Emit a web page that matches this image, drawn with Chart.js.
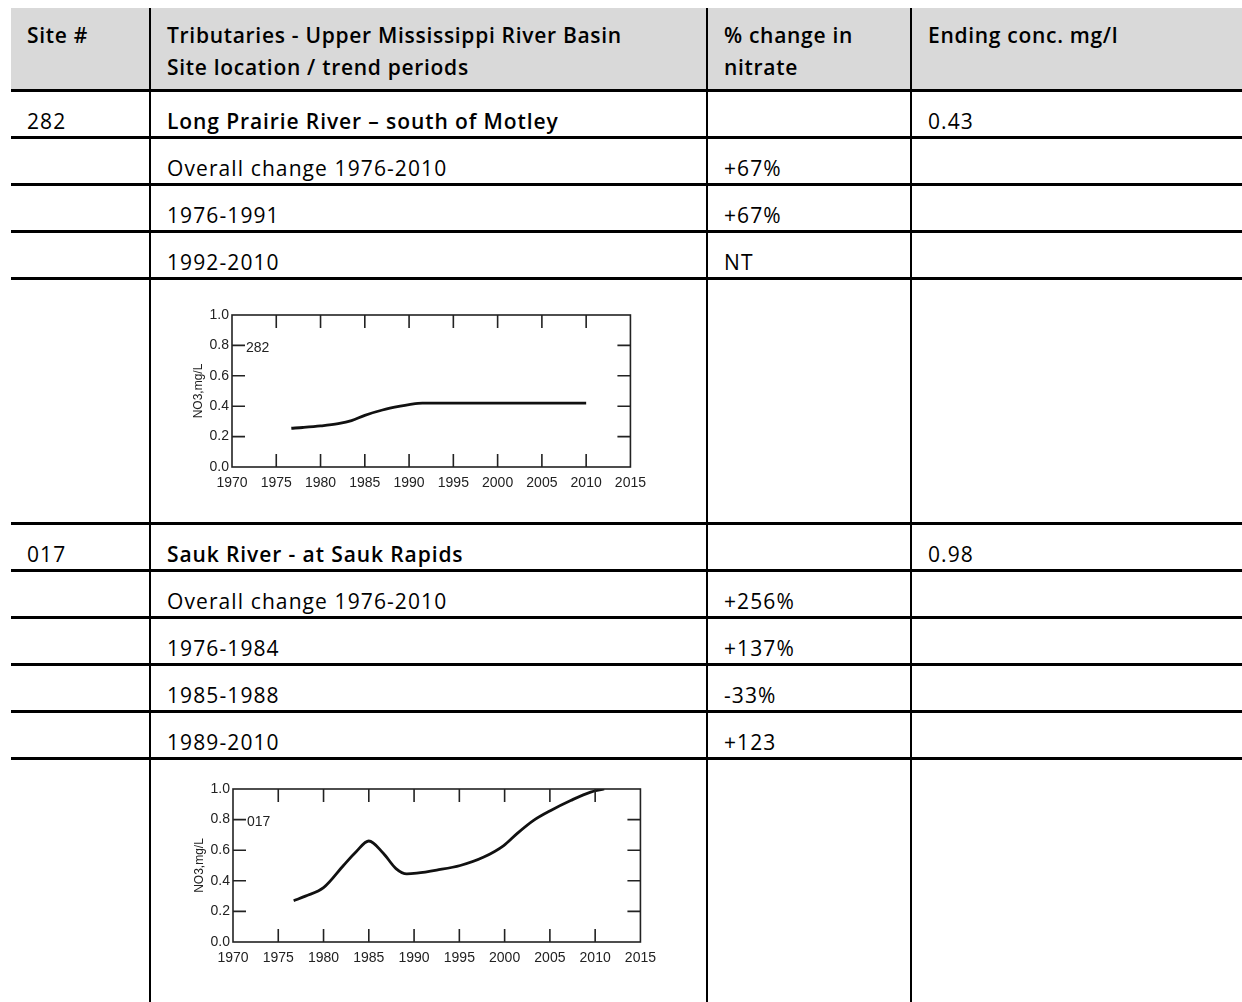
<!DOCTYPE html>
<html>
<head>
<meta charset="utf-8">
<script src="https://cdn.jsdelivr.net/npm/chart.js@4.4.1/dist/chart.umd.min.js"></script>
<style>
    body {
        margin: 0;
        width: 1242px;
        height: 1002px;
        overflow: hidden;
        position: relative;
        background: #fff;
        font-family: "Open Sans", Lato, sans-serif;
        font-size: 21px;
        color: #000;
    }
    table {
        position: absolute;
        left: 11px;
        top: 8px;
        width: 1231px;
        border-collapse: collapse;
        table-layout: fixed;
        letter-spacing: 1.1px;
    }
    th, td {
        text-align: left;
        padding: 0 0 3px 16px;
        vertical-align: bottom;
        line-height: 24px;
        border-bottom: 3px solid #000;
        white-space: nowrap;
    }
    th + th, td + td { border-left: 2px solid #000; }
    th {
        background: #d9d9d9;
        vertical-align: top;
        padding-top: 11px;
        line-height: 32px;
        letter-spacing: 0.7px;
    }
    tr.head { height: 82px; }
    tr.line { height: 47px; }
    tr.plot { height: 245px; }
    td.name, th { font-weight: 600; }
    td.name { letter-spacing: 0.9px; }
    .chartBox { position: absolute; letter-spacing: 0; }
    .chartBox canvas { letter-spacing: 0; }
</style>
</head>
<body>
<table id="tbl">
    <colgroup>
        <col style="width:139px"><col style="width:557px"><col style="width:204px"><col style="width:331px">
    </colgroup>
    <tbody id="tbody"></tbody>
</table>

<div class="chartBox" style="left:160px; top:295px;"><canvas id="c282" width="494" height="200"></canvas></div>
<div class="chartBox" style="left:160px; top:770px;"><canvas id="c017" width="504" height="200"></canvas></div>

<script>
const headerCells = ["Site #", "Tributaries - Upper Mississippi River Basin<br>Site location / trend periods", "% change in<br>nitrate", "Ending conc. mg/l"];
const siteIds = ["282", "017"];
const siteNames = ["Long Prairie River – south of Motley", "Sauk River - at Sauk Rapids"];
const endingConc = ["0.43", "0.98"];
const trendPeriods = [
    ["Overall change 1976-2010", "1976-1991", "1992-2010"],
    ["Overall change 1976-2010", "1976-1984", "1985-1988", "1989-2010"]
];
const nitrateChange = [
    ["+67%", "+67%", "NT"],
    ["+256%", "+137%", "-33%", "+123"]
];

// trend curves
const years282 = [1976.7, 1978, 1980, 1982, 1983.5, 1985, 1987, 1989, 1990, 1991.5, 1995, 2000, 2005, 2010];
const no3_282 = [0.255, 0.26, 0.27, 0.285, 0.305, 0.34, 0.375, 0.40, 0.41, 0.42, 0.42, 0.42, 0.42, 0.42];

const years017 = [1976.7, 1978, 1980, 1982.2, 1983.6, 1985, 1986.6, 1988, 1989.2, 1990.3, 1992.5, 1995.1, 1997.7, 1999.9, 2001.4, 2003.2, 2005.1, 2007.3, 2009.5, 2011];
const no3_017 = [0.27, 0.30, 0.355, 0.50, 0.59, 0.66, 0.58, 0.48, 0.445, 0.45, 0.47, 0.50, 0.555, 0.63, 0.71, 0.795, 0.86, 0.925, 0.98, 1.0];

const yearTicks = [1970, 1975, 1980, 1985, 1990, 1995, 2000, 2005, 2010, 2015];
const concTicks = [0, 0.2, 0.4, 0.6, 0.8, 1.0];

function buildTable() {
    const body = document.getElementById("tbody");
    let html = '<tr class="head">' + headerCells.map(h => `<th>${h}</th>`).join("") + "</tr>";

    siteIds.forEach((id, i) => {
        html += `<tr class="line"><td>${id}</td><td class="name">${siteNames[i]}</td><td></td><td>${endingConc[i]}</td></tr>`;
        trendPeriods[i].forEach((p, j) => {
            html += `<tr class="line"><td></td><td>${p}</td><td>${nitrateChange[i][j]}</td><td></td></tr>`;
        });
        html += '<tr class="plot"><td></td><td></td><td></td><td></td></tr>';
    });
    body.innerHTML = html;
}

const TICK = 13;
const axisFont = { family: "'Liberation Sans', Arial, sans-serif", size: 14 };

// box with inward ticks on all four sides, plus the site tag
const framePlugin = {
    id: "frame",
    afterDraw(chart, args, opts) {
        const { ctx, chartArea: a, scales: { x, y } } = chart;
        ctx.save();
        ctx.strokeStyle = "#222";
        ctx.lineWidth = 1.6;
        ctx.strokeRect(a.left, a.top, a.right - a.left, a.bottom - a.top);
        ctx.beginPath();
        yearTicks.slice(1, -1).forEach(v => {
            const px = x.getPixelForValue(v);
            ctx.moveTo(px, a.bottom); ctx.lineTo(px, a.bottom - TICK);
            ctx.moveTo(px, a.top); ctx.lineTo(px, a.top + TICK);
        });
        concTicks.slice(1, -1).forEach(v => {
            const py = y.getPixelForValue(v);
            ctx.moveTo(a.left, py); ctx.lineTo(a.left + TICK, py);
            ctx.moveTo(a.right, py); ctx.lineTo(a.right - TICK, py);
        });
        ctx.stroke();

        ctx.fillStyle = "#222";
        ctx.font = "14px 'Liberation Sans', Arial, sans-serif";
        ctx.textBaseline = "middle";
        ctx.fillText(opts.site, a.left + TICK + 1, y.getPixelForValue(0.8) + 3);
        ctx.restore();
    }
};

function makeChart(id, site, years, values, pad) {
    new Chart(document.getElementById(id), {
        type: "line",
        data: {
            datasets: [{
                data: years.map((yr, i) => ({ x: yr, y: values[i] })),
                borderColor: "#111",
                borderWidth: 2.8,
                pointRadius: 0,
                cubicInterpolationMode: "monotone",
                fill: false
            }]
        },
        options: {
            responsive: false,
            animation: false,
            devicePixelRatio: 1,
            layout: { padding: { left: pad.left, top: pad.top, right: pad.right, bottom: 0 } },
            plugins: {
                legend: { display: false },
                tooltip: { enabled: false },
                frame: { site }
            },
            scales: {
                x: {
                    type: "linear",
                    min: yearTicks[0],
                    max: yearTicks[yearTicks.length - 1],
                    afterBuildTicks: s => { s.ticks = yearTicks.map(v => ({ value: v })); },
                    afterFit: s => { s.height = pad.xh; },
                    grid: { display: false, drawTicks: false },
                    border: { display: false },
                    ticks: {
                        padding: 8,
                        color: "#222",
                        font: axisFont,
                        maxRotation: 0,
                        autoSkip: false,
                        callback: v => String(v)
                    }
                },
                y: {
                    min: 0,
                    max: 1,
                    afterBuildTicks: s => { s.ticks = concTicks.map(v => ({ value: v })); },
                    afterFit: s => { s.width = pad.yw; },
                    grid: { display: false, drawTicks: false },
                    border: { display: false },
                    ticks: {
                        padding: 3,
                        color: "#222",
                        font: axisFont,
                        callback: v => v.toFixed(1)
                    },
                    title: {
                        display: true,
                        text: "NO3,mg/L",
                        color: "#222",
                        font: { family: axisFont.family, size: 12 },
                        padding: { top: 5, bottom: 0 }
                    }
                }
            }
        },
        plugins: [framePlugin]
    });
}

buildTable();
makeChart("c282", "282", years282, no3_282, { left: 26, top: 20, right: 16, yw: 46, xh: 28 });
makeChart("c017", "017", years017, no3_017, { left: 27, top: 19, right: 16, yw: 46, xh: 28 });
</script>
</body>
</html>
